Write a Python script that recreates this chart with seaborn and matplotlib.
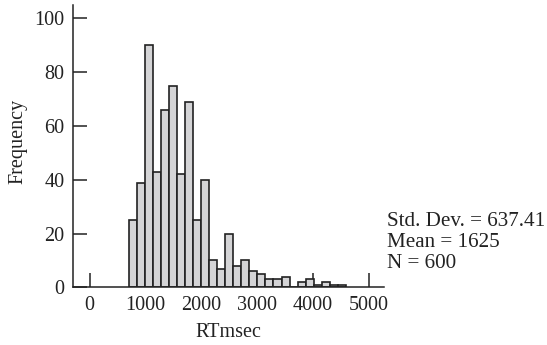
import numpy as np
import pandas as pd
import seaborn as sns
import matplotlib
matplotlib.use("Agg")
import matplotlib.pyplot as plt

# Histogram of response times (bins of 144 ms starting at 700 ms)
bin_start = 700
bin_width = 144
counts = [25, 39, 90, 43, 66, 75, 42, 69, 25, 40, 10, 7, 20, 8, 10,
          6, 5, 3, 3, 4, 0, 2, 3, 1, 2, 1, 1]
x_ticks = [0, 1000, 2000, 3000, 4000, 5000]
y_ticks = [0, 20, 40, 60, 80, 100]
stats_lines = ["Std. Dev. = 637.41", "Mean = 1625", "N = 600"]

edges = [bin_start + bin_width * i for i in range(len(counts) + 1)]
centers = [(a + b) / 2 for a, b in zip(edges[:-1], edges[1:])]
df = pd.DataFrame({"RTmsec": centers, "count": counts})

sns.set_style("ticks")
plt.rcParams["font.family"] = ["Liberation Serif", "DejaVu Serif"]
plt.rcParams["font.size"] = 14.5

fig = plt.figure(figsize=(5.47, 3.45), dpi=100)
ax = fig.add_axes([0.134, 0.167, 0.568, 0.8185])

sns.histplot(data=df, x="RTmsec", weights="count", bins=edges,
             color="#d4d4d6", edgecolor="#222222", linewidth=1.2,
             alpha=1.0, ax=ax)

ax.set_xlim(-290, 5270)
ax.set_ylim(0, 105)
ax.set_xticks(x_ticks)
ax.set_yticks(y_ticks)
ax.set_axisbelow(True)
ax.tick_params(direction="in", length=10, width=1.1, color="#222222",
               labelsize=14.5, labelcolor="#222222")
ax.tick_params(axis="y", pad=6.5)
ax.tick_params(axis="x", pad=6)

for side in ("top", "right"):
    ax.spines[side].set_visible(False)
for side in ("left", "bottom"):
    ax.spines[side].set_linewidth(1.1)
    ax.spines[side].set_color("#222222")
    ax.spines[side].set_zorder(3)

ax.set_xlabel("RTmsec", fontsize=14.5, color="#222222", labelpad=6)
ax.set_ylabel("Frequency", fontsize=14.5, color="#222222")
ax.yaxis.set_label_coords(-0.146, 0.518)

for line, yb in zip(stats_lines, [0.345, 0.284, 0.224]):
    fig.text(0.708, yb, line, ha="left", va="baseline",
             fontsize=15.2, color="#222222")

fig.savefig("out.png", dpi=100)
